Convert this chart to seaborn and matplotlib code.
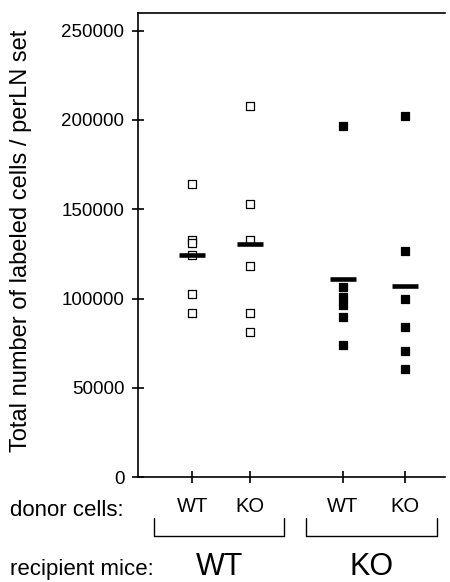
import pandas as pd
import seaborn as sns
import matplotlib.pyplot as plt
import matplotlib.transforms as mtransforms

# values (cells per LN set)
wt_recip_wt_donor = [164400, 133000, 131000, 124300, 102800, 92100]
wt_recip_ko_donor = [208000, 152800, 132800, 118500, 91700, 81300]
ko_recip_wt_donor = [196600, 106600, 100700, 96600, 89500, 74300]
ko_recip_ko_donor = [202100, 126600, 99600, 83900, 70600, 60500]

donor_labels = ["WT", "KO", "WT", "KO"]
recipient_labels = ["WT", "KO"]
y_ticks = [0, 50000, 100000, 150000, 200000, 250000]

# horizontal spot of each group on the axis
positions = [1.0, 2.0, 3.6, 4.67]

rows = []
for pos, recip, vals in zip(positions, ["WT", "WT", "KO", "KO"],
                            [wt_recip_wt_donor, wt_recip_ko_donor,
                             ko_recip_wt_donor, ko_recip_ko_donor]):
    for v in vals:
        rows.append({"pos": pos, "recipient": recip, "cells": v})
df = pd.DataFrame(rows)

sns.set_style("ticks")
plt.rcParams["font.family"] = ["Liberation Sans", "DejaVu Sans"]
plt.rcParams["text.color"] = "black"
plt.rcParams["axes.labelcolor"] = "black"
plt.rcParams["xtick.color"] = "black"
plt.rcParams["ytick.color"] = "black"

fig = plt.figure(figsize=(4.5, 5.82), dpi=100)
ax = fig.add_axes([0.307, 0.180, 0.682, 0.798])

sns.stripplot(data=df[df.recipient == "WT"], x="pos", y="cells", native_scale=True,
              jitter=False, marker="s", size=5.5, color="white",
              edgecolor="black", linewidth=0.9, ax=ax)
sns.stripplot(data=df[df.recipient == "KO"], x="pos", y="cells", native_scale=True,
              jitter=False, marker="s", size=5.5, color="black",
              edgecolor="black", linewidth=0.9, ax=ax)

# group means as thick bars
means = df.groupby("pos")["cells"].mean()
ax.hlines(means.values, means.index - 0.23, means.index + 0.23,
          color="black", linewidth=3.3, zorder=5)

ax.set_xlim(0.07, 5.36)
ax.set_ylim(0, 260000)
ax.set_yticks(y_ticks)
ax.set_yticklabels([str(t) for t in y_ticks])
ax.set_xticks(positions)
ax.set_xticklabels([])
ax.tick_params(axis="both", direction="inout", length=8, width=1.2, color="black")
ax.tick_params(axis="y", pad=6, labelsize=13.5)
ax.set_xlabel("")
ax.set_ylabel("Total number of labeled cells / perLN set", fontsize=17)
ax.yaxis.set_label_coords(-0.345, 0.51)

for side in ["left", "bottom", "top"]:
    ax.spines[side].set_linewidth(1.2)
    ax.spines[side].set_color("black")
ax.spines["right"].set_visible(False)

# labels under the axis
trans = mtransforms.blended_transform_factory(ax.transData, fig.transFigure)
for pos, lab in zip(positions, donor_labels):
    fig.text(pos, 0.129, lab, transform=trans, ha="center", va="center", fontsize=14.5)
fig.text(0.022, 0.122, "donor cells:", ha="left", va="center", fontsize=16)
fig.text(0.022, 0.021, "recipient mice:", ha="left", va="center", fontsize=16)

brackets = [(0.34, 2.59), (2.96, 5.22)]
for (x0, x1), lab in zip(brackets, recipient_labels):
    ax.plot([x0, x0, x1, x1], [0.110, 0.079, 0.079, 0.110], transform=trans,
            color="black", linewidth=1.0, clip_on=False)
    fig.text((x0 + x1) / 2, 0.026, lab, transform=trans, ha="center", va="center",
             fontsize=22)

fig.savefig("out.png", dpi=100)
